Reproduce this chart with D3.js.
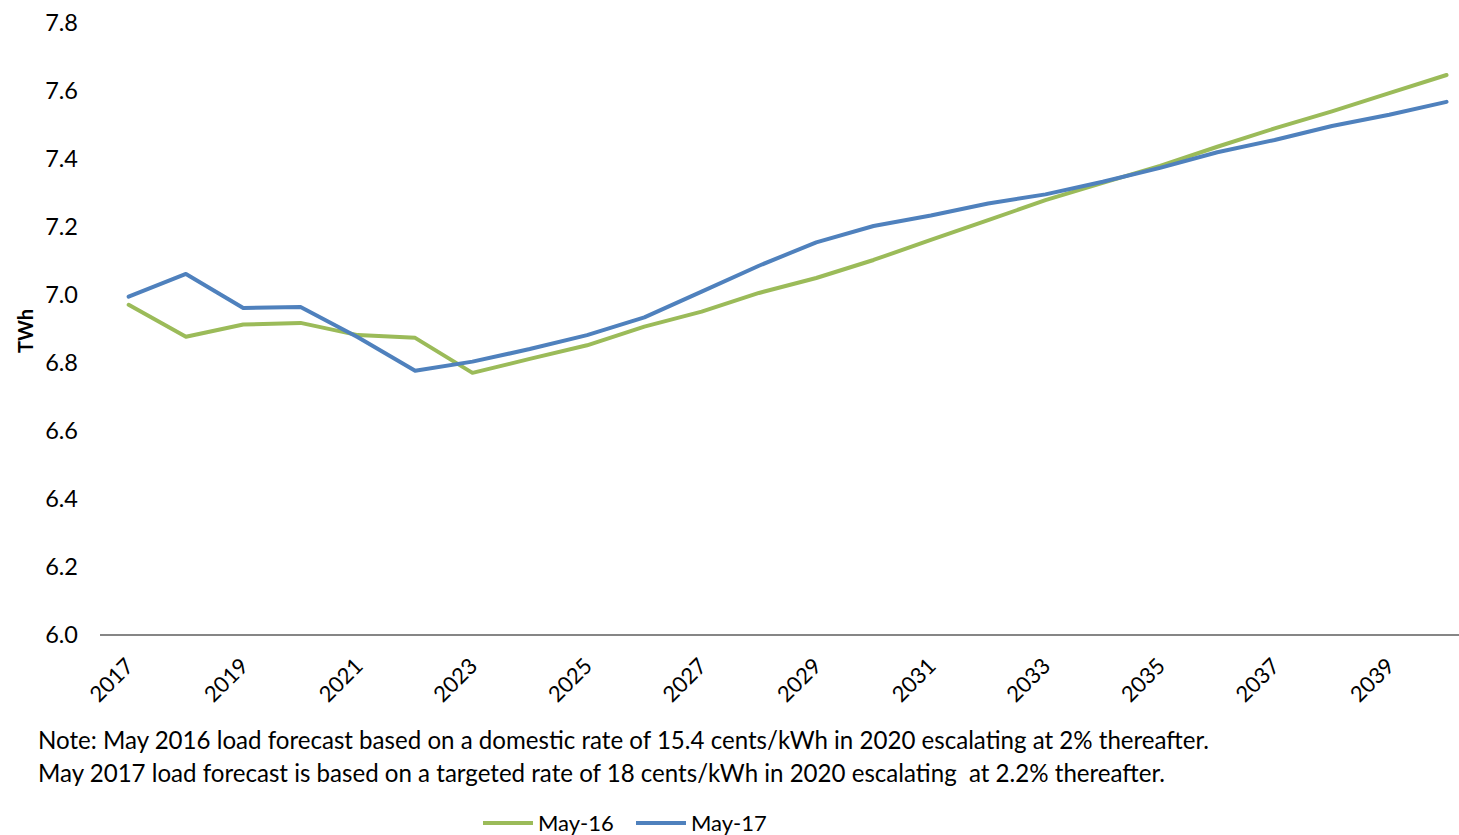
<!DOCTYPE html>
<html>
<head>
<meta charset="utf-8">
<script src="https://cdn.jsdelivr.net/npm/d3@7"></script>
<style>
  body { margin: 0; background: #fff; }
  svg { display: block; font-family: Lato, "Open Sans", sans-serif; }
  text { white-space: pre; }
</style>
</head>
<body>
<svg id="chart" width="1459" height="835"></svg>
<script>
const years = d3.range(2017, 2041);
const may16 = [6.971, 6.877, 6.913, 6.918, 6.882, 6.874, 6.771, 6.812, 6.852, 6.907, 6.951, 7.006,
  7.050, 7.103, 7.162, 7.220, 7.279, 7.330, 7.380, 7.436, 7.490, 7.540, 7.594, 7.647];
const may17 = [6.995, 7.062, 6.962, 6.965, 6.876, 6.777, 6.804, 6.841, 6.882, 6.934, 7.010, 7.086,
  7.155, 7.203, 7.234, 7.269, 7.296, 7.333, 7.374, 7.420, 7.456, 7.497, 7.530, 7.568];
const yTicks = [6.0, 6.2, 6.4, 6.6, 6.8, 7.0, 7.2, 7.4, 7.6, 7.8];
const noteLines = [
  "Note: May 2016 load forecast based on a domestic rate of 15.4 cents/kWh in 2020 escalating at 2% thereafter.",
  "May 2017 load forecast is based on a targeted rate of 18 cents/kWh in 2020 escalating  at 2.2% thereafter."
];
const series = [
  {name: "May-16", values: may16, color: "#9bbb59"},
  {name: "May-17", values: may17, color: "#4f81bd"}
];

const svg = d3.select("#chart");

// category axis: points sit in the middle of each band
const x = d3.scaleBand().domain(years).range([100, 100 + 24 * 57.3]);
const y = d3.scaleLinear().domain([6.0, 7.8]).range([635, 23]);
const cx = d => x(d) + x.bandwidth() / 2;

// y labels
svg.append("g")
  .selectAll("text")
  .data(yTicks)
  .join("text")
  .attr("x", 78)
  .attr("y", d => y(d))
  .attr("dy", "0.36em")
  .attr("text-anchor", "end")
  .attr("font-size", 23.5)
  .attr("fill", "#000")
  .text(d => d.toFixed(1));

svg.append("text")
  .attr("transform", "translate(33,331) rotate(-90)")
  .attr("text-anchor", "middle")
  .attr("font-size", 20)
  .attr("font-weight", "bold")
  .text("TWh");

// x axis line
svg.append("line")
  .attr("x1", 100).attr("x2", 1459)
  .attr("y1", y(6.0)).attr("y2", y(6.0))
  .attr("stroke", "#868686")
  .attr("stroke-width", 2);

svg.append("g")
  .selectAll("text")
  .data(years.filter((d, i) => i % 2 === 0))
  .join("text")
  .attr("transform", d => `translate(${cx(d) + 1},${y(6.0) + 27}) rotate(-45)`)
  .attr("text-anchor", "end")
  .attr("dy", "0.35em")
  .attr("font-size", 22)
  .text(d => d);

// lines
const line = d3.line()
  .x((d, i) => cx(years[i]))
  .y(d => y(d));

svg.append("g")
  .selectAll("path")
  .data(series)
  .join("path")
  .attr("d", d => line(d.values))
  .attr("fill", "none")
  .attr("stroke", d => d.color)
  .attr("stroke-width", 4)
  .attr("stroke-linejoin", "round")
  .attr("stroke-linecap", "round");

// note
svg.append("g")
  .selectAll("text")
  .data(noteLines)
  .join("text")
  .attr("x", 38)
  .attr("y", (d, i) => 749 + i * 33)
  .attr("font-size", 24.1)
  .text(d => d);

// legend
const leg = svg.append("g")
  .selectAll("g")
  .data(series)
  .join("g")
  .attr("transform", (d, i) => `translate(${483 + i * 153},823)`);
leg.append("line")
  .attr("x1", 0).attr("x2", 50)
  .attr("stroke", d => d.color)
  .attr("stroke-width", 4);
leg.append("text")
  .attr("x", 55)
  .attr("dy", "0.35em")
  .attr("font-size", 22)
  .text(d => d.name);
</script>
</body>
</html>
